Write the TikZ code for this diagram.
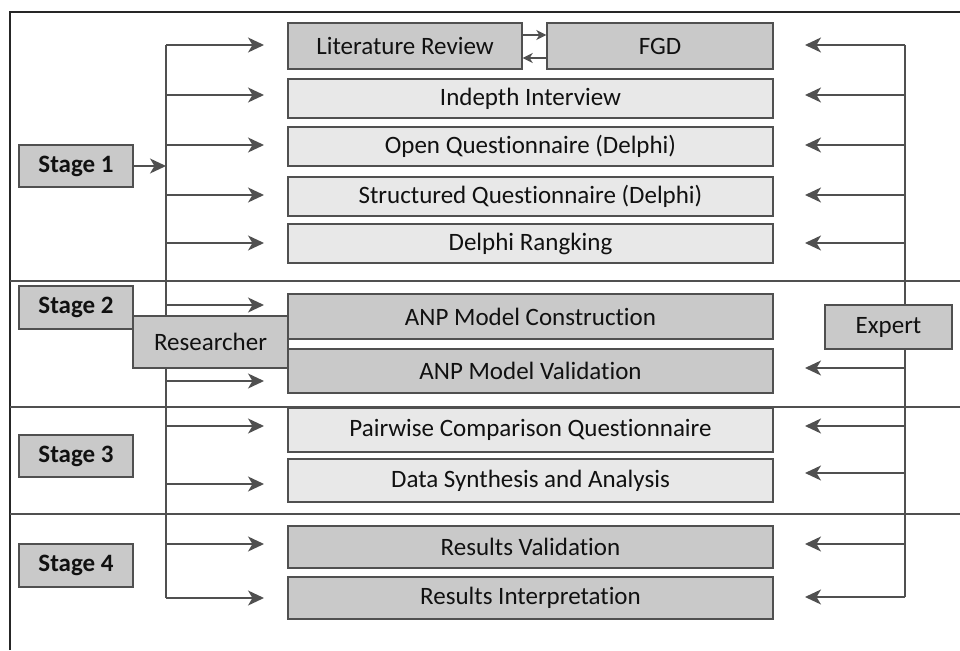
\documentclass[tikz,border=0pt]{standalone}
\usepackage{fontspec}
\setmainfont{Carlito}[Ligatures={NoCommon}]
\usetikzlibrary{arrows.meta,calc}
\definecolor{darkbox}{HTML}{C9C9C9}
\definecolor{lightbox}{HTML}{E8E8E8}
\definecolor{edge}{HTML}{505050}
\definecolor{txt}{HTML}{111111}
\begin{document}
\begin{tikzpicture}[x=1pt,y=-1pt,
  box/.style={draw=edge,line width=1.4pt,inner sep=0pt,font=\fontsize{25}{30}\selectfont,text=txt},
  dbox/.style={box,fill=darkbox},
  lbox/.style={box,fill=lightbox},
  stagebox/.style={dbox,minimum width=114pt,minimum height=42pt,font=\fontsize{25}{30}\selectfont\bfseries},
  ln/.style={draw=edge,line width=1.5pt},
  arr/.style={ln,-{Stealth[length=16pt,width=15pt,inset=4.5pt]}},
  sarr/.style={ln,-{Stealth[length=10pt,width=10pt,inset=3pt]}},
  divider/.style={draw=edge,line width=1.3pt}]
\useasboundingbox (0,0) rectangle (960,650);
% frame
\draw[draw=black!85,line width=1.8pt] (10,650) -- (10,12) -- (960,12);
% dividers
\foreach \y in {281,407,514} \draw[divider] (10,\y) -- (960,\y);
% buses
\coordinate (rbTop) at (166,45); \coordinate (rbBot) at (166,598);
\coordinate (ebTop) at (905,45); \coordinate (ebBot) at (905,597);
\draw[ln] (rbTop) -- (rbBot);
\draw[ln] (ebTop) -- (ebBot);
% researcher arrows
\foreach \y [count=\i] in {45,95,145,195,243,305,381,426,484,544,598}{
  \coordinate (ls\i) at (166,\y); \coordinate (le\i) at (264,\y);
  \draw[arr] (ls\i) -- (le\i);
}
% expert arrows
\foreach \y [count=\i] in {45,95,145,195,243,368,426,473,544,597}{
  \coordinate (es\i) at (905,\y); \coordinate (ee\i) at (805,\y);
  \draw[arr] (es\i) -- (ee\i);
}
% boxes
\node[dbox,minimum width=234pt,minimum height=46pt] (lit) at (405,46) {Literature Review};
\node[dbox,minimum width=226pt,minimum height=46pt] (fgd) at (660,46) {FGD};
\node[lbox,minimum width=485pt,minimum height=39pt] (ind) at (530.5,98.5) {Indepth Interview};
\node[lbox,minimum width=485pt,minimum height=39pt] (open) at (530.5,146.5) {Open Questionnaire (Delphi)};
\node[lbox,minimum width=485pt,minimum height=39pt] (str) at (530.5,196.5) {Structured Questionnaire (Delphi)};
\node[lbox,minimum width=485pt,minimum height=39pt] (rank) at (530.5,243.5) {Delphi Rangking};
\node[dbox,minimum width=485pt,minimum height=45pt] (anpc) at (530.5,316.5) {ANP Model Construction};
\node[dbox,minimum width=485pt,minimum height=44pt] (anpv) at (530.5,371) {ANP Model Validation};
\node[lbox,minimum width=485pt,minimum height=44pt] (pair) at (530.5,430) {Pairwise Comparison Questionnaire};
\node[lbox,minimum width=485pt,minimum height=43pt] (data) at (530.5,480.5) {Data Synthesis and Analysis};
\node[dbox,minimum width=485pt,minimum height=42pt] (rval) at (530.5,547) {Results Validation};
\node[dbox,minimum width=485pt,minimum height=42pt] (rint) at (530.5,598) {Results Interpretation};
% stages
\node[stagebox] (s1) at (76,166) {Stage 1};
\node[stagebox,minimum height=43pt] (s2) at (76,307.5) {Stage 2};
\node[stagebox] (s3) at (76,456) {Stage 3};
\node[stagebox,minimum height=43pt] (s4) at (76,565.5) {Stage 4};
% actors
\node[dbox,minimum width=155pt,minimum height=52pt] (res) at (210.5,342) {Researcher};
\node[dbox,minimum width=127pt,minimum height=44pt] (exp) at (888.5,327) {Expert};
% stage 1 arrow
\coordinate (s1bus) at (166,166);
\draw[arr] (s1.east) -- (s1bus);
% lit <-> fgd
\draw[sarr] ($(lit.east)+(0,-11)$) -- ($(fgd.west)+(0,-11)$);
\draw[sarr] ($(fgd.west)+(0,12)$) -- ($(lit.east)+(0,12)$);
\end{tikzpicture}
\end{document}
